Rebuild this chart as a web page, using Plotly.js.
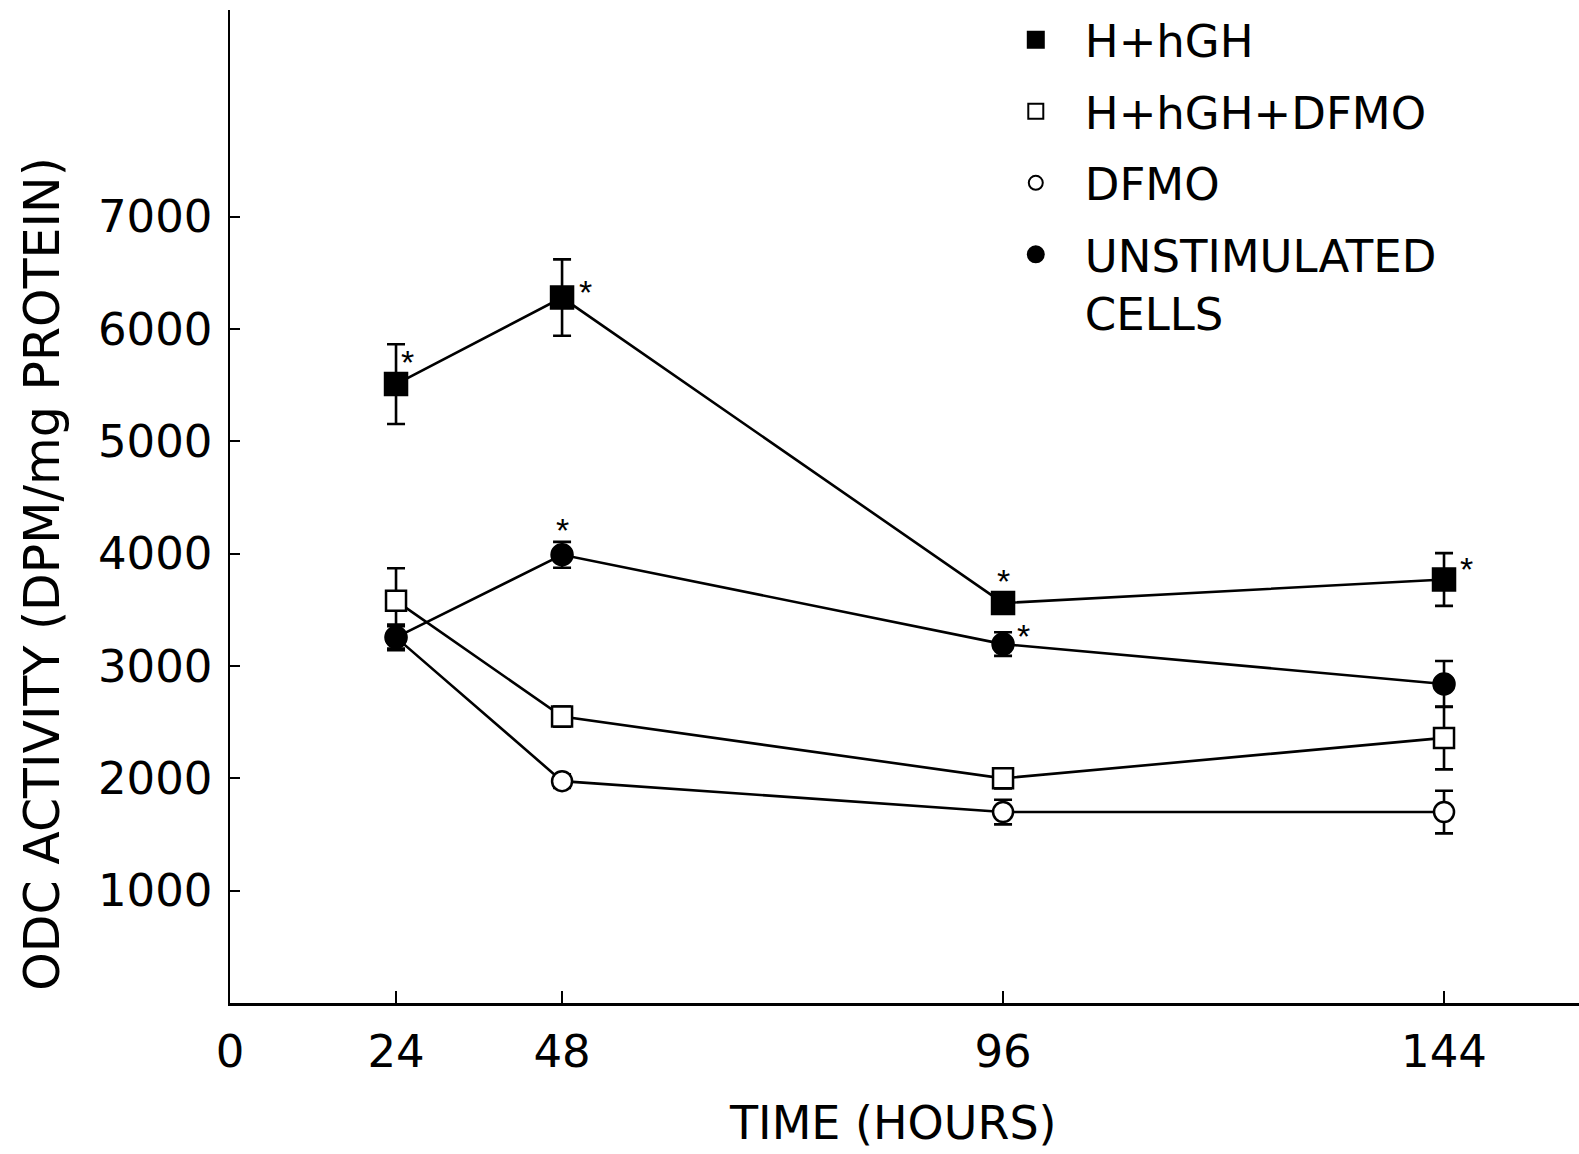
<!DOCTYPE html>
<html>
<head>
<meta charset="utf-8">
<script src="https://cdn.plot.ly/plotly-3.0.1.min.js"></script>
<style>html,body{margin:0;padding:0;background:#fff;}#chart{width:1579px;height:1154px;}</style>
</head>
<body>
<div id="chart"></div>
<script>
// ---- data ----
const hours = [24, 48, 96, 144];
const tickHours = [0, 24, 48, 96, 144];
const tickLabels = ['0', '24', '48', '96', '144'];
const yTicks = [1000, 2000, 3000, 4000, 5000, 6000, 7000];

const seriesNames = ['H+hGH', 'H+hGH+DFMO', 'DFMO', 'UNSTIMULATED<br>CELLS'];
const hGH       = [5510, 6280, 3560, 3770];
const hGHErr    = [355, 340, 90, 235];
const hGHDFMO   = [3580, 2550, 2000, 2360];
const hGHDFMOErr= [290, 90, 90, 280];
const dfmo      = [3255, 1975, 1700, 1700];
const dfmoErr   = [100, 60, 110, 190];
const unstim    = [3255, 3990, 3195, 2840];
const unstimErr = [115, 115, 105, 205];
// significance markers (*)
const hGHSig    = [true, true, true, true];
const unstimSig = [false, true, true, false];

const xTitle = 'TIME (HOURS)';
const yTitle = 'ODC ACTIVITY (DPM/mg PROTEIN)';

// ---- axis scale: the original time axis is broken (48-144 h drawn wider) ----
const BREAK = 48, STRETCH = 1.328;
function toAxis(h) { return h <= BREAK ? h : BREAK + (h - BREAK) * STRETCH; }
const xs = hours.map(toAxis);

const FONT = 'DejaVu Sans, Verdana, sans-serif';
const BLACK = '#000';

function series(y, err, symbol, fill, size, name) {
  return {
    type: 'scatter', mode: 'lines+markers', x: xs, y: y, name: name, showlegend: false,
    line: {color: BLACK, width: 2.6},
    marker: {symbol: symbol, size: size, color: fill, line: {color: BLACK, width: 2.5}},
    error_y: {type: 'data', array: err, visible: true, color: BLACK, thickness: 2.6, width: 9},
    cliponaxis: false
  };
}
function legendEntry(symbol, fill, size, name, group) {
  return {
    type: 'scatter', mode: 'markers', x: [null], y: [null], name: name, legendgroup: group,
    marker: {symbol: symbol, size: size, color: fill, line: {color: BLACK, width: 2}}
  };
}

const traces = [
  series(dfmo, dfmoErr, 'circle', '#fff', 20, seriesNames[2]),
  series(hGHDFMO, hGHDFMOErr, 'square', '#fff', 20, seriesNames[1]),
  series(unstim, unstimErr, 'circle', BLACK, 21, seriesNames[3]),
  series(hGH, hGHErr, 'square', BLACK, 22, seriesNames[0]),
  legendEntry('square', BLACK, 16, seriesNames[0], 'g1'),
  legendEntry('square', '#fff', 15, seriesNames[1], 'g2'),
  legendEntry('circle', '#fff', 14, seriesNames[2], 'g3'),
  legendEntry('circle', BLACK, 16, seriesNames[3], 'g4')
];

// asterisk offsets per point (pixels)
const hGHStarShift = [[11, 22], [23, 6], [0, 22], [22, 11]];
const unstimStarShift = [[0, 0], [0, 25], [20, 8], [0, 0]];
const annotations = [];
hGHSig.forEach((s, i) => { if (s) annotations.push({x: xs[i], y: hGH[i], xshift: hGHStarShift[i][0], yshift: hGHStarShift[i][1]}); });
unstimSig.forEach((s, i) => { if (s) annotations.push({x: xs[i], y: unstim[i], xshift: unstimStarShift[i][0], yshift: unstimStarShift[i][1]}); });
annotations.forEach(a => Object.assign(a, {text: '*', showarrow: false, xref: 'x', yref: 'y',
  font: {family: 'Liberation Sans, Arial, sans-serif', size: 34, color: BLACK}}));
// axis titles (placed as annotations, like the original)
annotations.push({text: yTitle, textangle: -90, showarrow: false, xref: 'paper', yref: 'paper',
  x: -0.1395, y: 0.432, xanchor: 'center', yanchor: 'middle',
  font: {family: FONT, size: 49, color: BLACK}});
annotations.push({text: xTitle, showarrow: false, xref: 'paper', yref: 'paper',
  x: 0.4915, y: -0.1205, xanchor: 'center', yanchor: 'middle',
  font: {family: FONT, size: 46, color: BLACK}});

const layout = {
  width: 1579, height: 1154,
  margin: {l: 230, r: 0, t: 10, b: 151},
  paper_bgcolor: '#fff', plot_bgcolor: '#fff',
  font: {family: FONT, color: BLACK},
  showlegend: true,
  legend: {x: 0.561, y: 1.006, xanchor: 'left', yanchor: 'top', bgcolor: 'rgba(0,0,0,0)',
    font: {family: FONT, size: 45, color: BLACK}, tracegroupgap: 10, itemsizing: 'trace',
    itemwidth: 88, valign: 'top'},
  xaxis: {
    range: [0, 195], tickmode: 'array', tickvals: tickHours.map(toAxis), ticktext: tickLabels,
    ticks: 'inside', ticklen: 12, tickwidth: 2, tickcolor: BLACK,
    showline: true, linewidth: 2.5, linecolor: BLACK, showgrid: false, zeroline: false,
    tickfont: {family: FONT, size: 45, color: BLACK}, ticklabelstandoff: 7,
    automargin: false
  },
  yaxis: {
    range: [0, 8840], tickmode: 'array', tickvals: yTicks,
    ticks: 'inside', ticklen: 10, tickwidth: 2, tickcolor: BLACK,
    showline: true, linewidth: 2.5, linecolor: BLACK, showgrid: false, zeroline: false,
    tickfont: {family: FONT, size: 45, color: BLACK}, ticklabelstandoff: 6,
    automargin: false
  },
  annotations: annotations
};

Plotly.newPlot('chart', traces, layout, {displayModeBar: false, staticPlot: true});
</script>
</body>
</html>
